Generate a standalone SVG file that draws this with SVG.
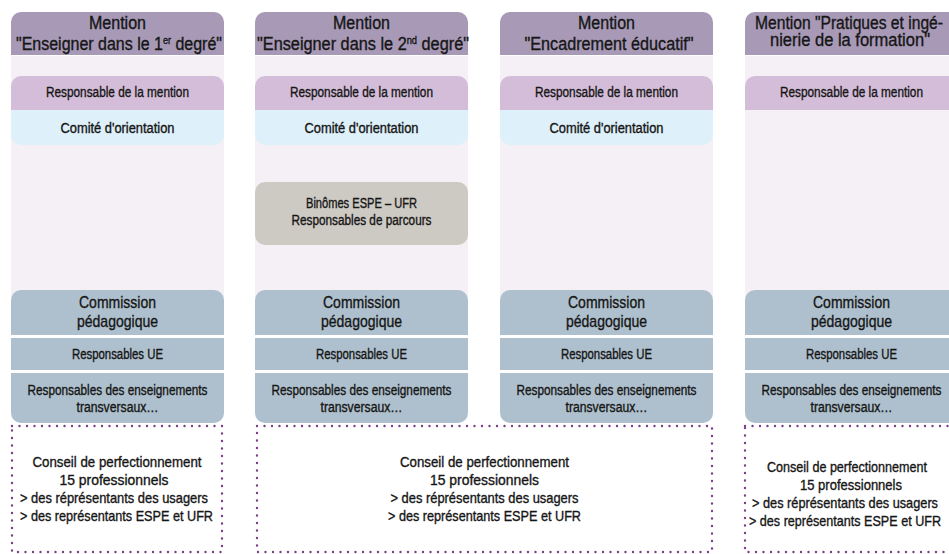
<svg xmlns="http://www.w3.org/2000/svg" xmlns:xlink="http://www.w3.org/1999/xlink" width="949" height="554" viewBox="0 0 949 554">
<style>
text{font-family:'Liberation Sans Narrow','Liberation Sans',Arial,sans-serif;fill:#161616;stroke:#161616;stroke-width:0.35;text-anchor:middle}
.t{font-size:17.5px}
.b{font-size:14px}
.c{font-size:17px}
.d{font-size:14.5px}
.hdr{fill:#a89ab7}
.bg{fill:#f5f0f5}
.resp{fill:#d4bdd8}
.com{fill:#def0f9}
.bin{fill:#cdc9c3}
.ped{fill:#aec0cd}
.dot{fill:none;stroke:#7d3d8c;stroke-width:2.4;stroke-linecap:round;stroke-dasharray:0 7.5}
</style>
<defs>
<path id="s-hdr" d="M0,55 V22 A10,10 0 0 1 10,12 H203 A10,10 0 0 1 213,22 V55 Z"/>
<rect id="s-bg" x="0" y="56" width="213" height="250"/>
<path id="s-resp" d="M0,110 V86 A10,10 0 0 1 10,76 H203 A10,10 0 0 1 213,86 V110 Z"/>
<path id="s-com" d="M0,110 H213 V135 A10,10 0 0 1 203,145 H10 A10,10 0 0 1 0,135 Z"/>
<path id="s-comm" d="M0,335 V300 A10,10 0 0 1 10,290 H203 A10,10 0 0 1 213,300 V335 Z"/>
<rect id="s-ue" x="0" y="338" width="213" height="32"/>
<path id="s-ens" d="M0,373 H213 V413 A10,10 0 0 1 203,423 H10 A10,10 0 0 1 0,413 Z"/>
</defs>
<rect width="949" height="554" fill="#ffffff"/>

<!-- Column 1 -->
<g transform="translate(11,0)">
<use xlink:href="#s-bg" class="bg"/>
<g id="c1-header"><use xlink:href="#s-hdr" class="hdr"/>
<text class="t" x="106.5" y="29" textLength="57" lengthAdjust="spacingAndGlyphs">Mention</text>
<text class="t" x="108" y="50" textLength="206" lengthAdjust="spacingAndGlyphs">"Enseigner dans le 1<tspan font-size="10" dy="-6">er</tspan><tspan dy="6"> degré"</tspan></text></g>
<g id="c1-resp"><use xlink:href="#s-resp" class="resp"/><text class="b" x="106.5" y="97" textLength="143" lengthAdjust="spacingAndGlyphs">Responsable de la mention</text></g>
<g id="c1-comite"><use xlink:href="#s-com" class="com"/><text class="b" x="106.5" y="133" textLength="114" lengthAdjust="spacingAndGlyphs">Comité d'orientation</text></g>
<g id="c1-commission"><use xlink:href="#s-comm" class="ped"/><text class="c" x="106.5" y="308" textLength="77" lengthAdjust="spacingAndGlyphs">Commission</text><text class="c" x="106.5" y="327" textLength="81" lengthAdjust="spacingAndGlyphs">pédagogique</text></g>
<g id="c1-ue"><use xlink:href="#s-ue" class="ped"/><text class="b" x="106.5" y="359" textLength="91" lengthAdjust="spacingAndGlyphs">Responsables UE</text></g>
<g id="c1-ens"><use xlink:href="#s-ens" class="ped"/><text class="b" x="106.5" y="395" textLength="180" lengthAdjust="spacingAndGlyphs">Responsables des enseignements</text><text class="b" x="106.5" y="412" textLength="82" lengthAdjust="spacingAndGlyphs">transversaux…</text></g>
</g>

<!-- Column 2 -->
<g transform="translate(255,0)">
<use xlink:href="#s-bg" class="bg"/>
<g id="c2-header"><use xlink:href="#s-hdr" class="hdr"/>
<text class="t" x="106.5" y="29" textLength="57" lengthAdjust="spacingAndGlyphs">Mention</text>
<text class="t" x="108" y="50" textLength="212" lengthAdjust="spacingAndGlyphs">"Enseigner dans le 2<tspan font-size="10" dy="-6">nd</tspan><tspan dy="6"> degré"</tspan></text></g>
<g id="c2-resp"><use xlink:href="#s-resp" class="resp"/><text class="b" x="106.5" y="97" textLength="143" lengthAdjust="spacingAndGlyphs">Responsable de la mention</text></g>
<g id="c2-comite"><use xlink:href="#s-com" class="com"/><text class="b" x="106.5" y="133" textLength="114" lengthAdjust="spacingAndGlyphs">Comité d'orientation</text></g>
<g id="c2-binomes"><rect class="bin" x="0" y="182" width="213" height="63" rx="10"/><text class="b" x="106.5" y="208" textLength="111" lengthAdjust="spacingAndGlyphs">Binômes ESPE – UFR</text><text class="b" x="106.5" y="225" textLength="140" lengthAdjust="spacingAndGlyphs">Responsables de parcours</text></g>
<g id="c2-commission"><use xlink:href="#s-comm" class="ped"/><text class="c" x="106.5" y="308" textLength="77" lengthAdjust="spacingAndGlyphs">Commission</text><text class="c" x="106.5" y="327" textLength="81" lengthAdjust="spacingAndGlyphs">pédagogique</text></g>
<g id="c2-ue"><use xlink:href="#s-ue" class="ped"/><text class="b" x="106.5" y="359" textLength="91" lengthAdjust="spacingAndGlyphs">Responsables UE</text></g>
<g id="c2-ens"><use xlink:href="#s-ens" class="ped"/><text class="b" x="106.5" y="395" textLength="180" lengthAdjust="spacingAndGlyphs">Responsables des enseignements</text><text class="b" x="106.5" y="412" textLength="82" lengthAdjust="spacingAndGlyphs">transversaux…</text></g>
</g>

<!-- Column 3 -->
<g transform="translate(500,0)">
<use xlink:href="#s-bg" class="bg"/>
<g id="c3-header"><use xlink:href="#s-hdr" class="hdr"/>
<text class="t" x="106.5" y="29" textLength="57" lengthAdjust="spacingAndGlyphs">Mention</text>
<text class="t" x="109" y="50" textLength="169" lengthAdjust="spacingAndGlyphs">"Encadrement éducatif"</text></g>
<g id="c3-resp"><use xlink:href="#s-resp" class="resp"/><text class="b" x="106.5" y="97" textLength="143" lengthAdjust="spacingAndGlyphs">Responsable de la mention</text></g>
<g id="c3-comite"><use xlink:href="#s-com" class="com"/><text class="b" x="106.5" y="133" textLength="114" lengthAdjust="spacingAndGlyphs">Comité d'orientation</text></g>
<g id="c3-commission"><use xlink:href="#s-comm" class="ped"/><text class="c" x="106.5" y="308" textLength="77" lengthAdjust="spacingAndGlyphs">Commission</text><text class="c" x="106.5" y="327" textLength="81" lengthAdjust="spacingAndGlyphs">pédagogique</text></g>
<g id="c3-ue"><use xlink:href="#s-ue" class="ped"/><text class="b" x="106.5" y="359" textLength="91" lengthAdjust="spacingAndGlyphs">Responsables UE</text></g>
<g id="c3-ens"><use xlink:href="#s-ens" class="ped"/><text class="b" x="106.5" y="395" textLength="180" lengthAdjust="spacingAndGlyphs">Responsables des enseignements</text><text class="b" x="106.5" y="412" textLength="82" lengthAdjust="spacingAndGlyphs">transversaux…</text></g>
</g>

<!-- Column 4 -->
<g transform="translate(745,0)">
<use xlink:href="#s-bg" class="bg"/>
<g id="c4-header"><use xlink:href="#s-hdr" class="hdr"/>
<text class="t" x="104" y="29" textLength="188" lengthAdjust="spacingAndGlyphs">Mention "Pratiques et ingé-</text>
<text class="t" x="105" y="46" textLength="160" lengthAdjust="spacingAndGlyphs">nierie de la formation"</text></g>
<g id="c4-resp"><use xlink:href="#s-resp" class="resp"/><text class="b" x="106.5" y="97" textLength="143" lengthAdjust="spacingAndGlyphs">Responsable de la mention</text></g>
<g id="c4-commission"><use xlink:href="#s-comm" class="ped"/><text class="c" x="106.5" y="308" textLength="77" lengthAdjust="spacingAndGlyphs">Commission</text><text class="c" x="106.5" y="327" textLength="81" lengthAdjust="spacingAndGlyphs">pédagogique</text></g>
<g id="c4-ue"><use xlink:href="#s-ue" class="ped"/><text class="b" x="106.5" y="359" textLength="91" lengthAdjust="spacingAndGlyphs">Responsables UE</text></g>
<g id="c4-ens"><use xlink:href="#s-ens" class="ped"/><text class="b" x="106.5" y="395" textLength="180" lengthAdjust="spacingAndGlyphs">Responsables des enseignements</text><text class="b" x="106.5" y="412" textLength="82" lengthAdjust="spacingAndGlyphs">transversaux…</text></g>
</g>

<!-- Conseils de perfectionnement -->
<g id="conseil-1">
<rect class="dot" x="12" y="426" width="210" height="126"/>
<text class="d" x="117" y="467" textLength="169" lengthAdjust="spacingAndGlyphs">Conseil de perfectionnement</text>
<text class="d" x="114" y="485" textLength="109" lengthAdjust="spacingAndGlyphs">15 professionnels</text>
<text class="d" x="114" y="503" textLength="188" lengthAdjust="spacingAndGlyphs">&gt; des réprésentants des usagers</text>
<text class="d" x="116.5" y="521" textLength="193" lengthAdjust="spacingAndGlyphs">&gt; des représentants ESPE et UFR</text>
</g>
<g id="conseil-2">
<rect class="dot" x="257" y="426" width="455" height="126"/>
<text class="d" x="484.5" y="467" textLength="169" lengthAdjust="spacingAndGlyphs">Conseil de perfectionnement</text>
<text class="d" x="484.5" y="485" textLength="109" lengthAdjust="spacingAndGlyphs">15 professionnels</text>
<text class="d" x="484.5" y="503" textLength="188" lengthAdjust="spacingAndGlyphs">&gt; des réprésentants des usagers</text>
<text class="d" x="484.5" y="521" textLength="193" lengthAdjust="spacingAndGlyphs">&gt; des représentants ESPE et UFR</text>
</g>
<g id="conseil-4">
<rect class="dot" x="745" y="426" width="220" height="126"/>
<text class="d" x="847" y="472" textLength="160" lengthAdjust="spacingAndGlyphs">Conseil de perfectionnement</text>
<text class="d" x="851" y="490" textLength="102" lengthAdjust="spacingAndGlyphs">15 professionnels</text>
<text class="d" x="845" y="508" textLength="186" lengthAdjust="spacingAndGlyphs">&gt; des réprésentants des usagers</text>
<text class="d" x="845" y="526" textLength="192" lengthAdjust="spacingAndGlyphs">&gt; des représentants ESPE et UFR</text>
</g>

<g id="connectors"></g>
</svg>
